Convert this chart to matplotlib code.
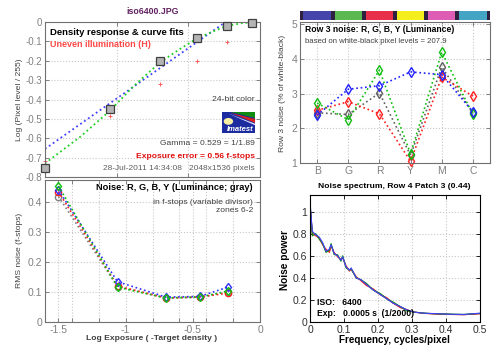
import numpy as np
import matplotlib
matplotlib.use("Agg")
import matplotlib.pyplot as plt
from matplotlib.patches import Rectangle, Polygon, Circle

plt.rcParams['font.family'] = ['Liberation Sans', 'DejaVu Sans']

# ---- density response (top left)
dens_x = [-1.5, -1.05, -0.70, -0.44, -0.23, -0.056]
dens_y = [-0.755, -0.45, -0.20, -0.085, -0.02, -0.005]
uneven_y = [-0.715, -0.485, -0.32, -0.20, -0.105, -0.01]
fit_lin_x = [-1.5, -0.24]
fit_lin_y = [-0.655, 0.0]
fit_curve_x = [-1.5, -1.25, -1.05, -0.88, -0.70, -0.56, -0.44, -0.30, -0.23, -0.12, 0.0]
fit_curve_y = [-0.73, -0.59, -0.46, -0.33, -0.21, -0.14, -0.085, -0.04, -0.02, -0.005, 0.0]

# ---- row 3 noise (top right)
patches = ['B', 'G', 'R', 'Y', 'M', 'C']
patch_colors = ['#4444aa', '#5cb850', '#e8304a', '#f4ee1c', '#de5cb4', '#44a4c4']
row3_red = [2.52, 2.77, 2.42, 1.05, 3.48, 2.93]
row3_green = [2.73, 2.25, 3.68, 1.27, 4.20, 2.40]
row3_blue = [2.38, 3.13, 3.23, 3.63, 3.55, 2.48]
row3_gray = [2.45, 2.40, 3.02, 1.22, 3.77, 2.45]

# ---- rms noise in f-stops (bottom left)
zone_x = [-1.5, -1.06, -0.70, -0.45, -0.24]
rms_green = [0.453, 0.116, 0.080, 0.083, 0.103]
rms_red = [0.434, 0.120, 0.080, 0.083, 0.096]
rms_gray = [0.418, 0.118, 0.080, 0.083, 0.100]
rms_blue = [0.440, 0.134, 0.083, 0.085, 0.116]

# ---- noise spectrum (bottom right)
freq = [0.0, 0.002, 0.007, 0.017, 0.027, 0.037, 0.047, 0.057, 0.062, 0.071,
        0.081, 0.091, 0.096, 0.106, 0.116, 0.121, 0.136, 0.151, 0.166, 0.186,
        0.206, 0.226, 0.245, 0.265, 0.285, 0.305, 0.335, 0.374, 0.414, 0.453, 0.5]
spec_blue = [1.13, 1.00, 0.82, 0.79, 0.77, 0.72, 0.64, 0.66, 0.70, 0.62,
             0.60, 0.56, 0.59, 0.50, 0.47, 0.49, 0.40, 0.38, 0.34, 0.29,
             0.25, 0.21, 0.17, 0.14, 0.11, 0.09, 0.08, 0.075, 0.07, 0.068, 0.08]
spec_red = [1.05, 0.98, 0.80, 0.78, 0.76, 0.70, 0.66, 0.63, 0.69, 0.63,
            0.59, 0.57, 0.58, 0.51, 0.46, 0.48, 0.41, 0.37, 0.33, 0.30,
            0.25, 0.22, 0.17, 0.13, 0.11, 0.09, 0.078, 0.072, 0.068, 0.066, 0.075]
spec_green = [1.08, 0.99, 0.78, 0.80, 0.75, 0.71, 0.63, 0.65, 0.71, 0.61,
              0.61, 0.55, 0.60, 0.49, 0.47, 0.48, 0.40, 0.38, 0.35, 0.29,
              0.26, 0.21, 0.18, 0.14, 0.10, 0.09, 0.08, 0.074, 0.071, 0.069, 0.078]
spec_gray = [1.10, 0.99, 0.80, 0.79, 0.76, 0.71, 0.64, 0.64, 0.70, 0.62,
             0.60, 0.56, 0.59, 0.50, 0.47, 0.48, 0.40, 0.38, 0.34, 0.29,
             0.25, 0.21, 0.17, 0.14, 0.11, 0.09, 0.079, 0.073, 0.069, 0.067, 0.076]

W, H = 500, 353
fig = plt.figure(figsize=(W / 100, H / 100), dpi=100)
fig.patch.set_facecolor('white')

def px_axes(x0, y0, x1, y1):
    return fig.add_axes([x0 / W, 1 - y1 / H, (x1 - x0) / W, (y1 - y0) / H])

tick_gray = '#808080'
spine_gray = '#707070'
grid_kw = dict(color='#c8c8c8', linestyle=':', linewidth=0.8)

def imatest_style(ax, fs=7):
    for s in ax.spines.values():
        s.set_color(spine_gray)
        s.set_linewidth(0.8)
    ax.tick_params(which='both', direction='in', top=True, right=True,
                   colors=spine_gray, labelcolor=tick_gray, labelsize=fs,
                   length=3, width=0.6, pad=2)
    ax.set_axisbelow(True)

# ===== top left =====
ax1 = px_axes(45, 22, 260, 177)
ax1.set_xlim(-1.5, 0)
ax1.set_ylim(-0.8, 0)
ax1.set_xticks([-1.5, -1.0, -0.5, 0])
ax1.set_xticklabels([])
ax1.set_yticks(np.arange(-0.8, 0.01, 0.1))
ax1.set_yticklabels(['-0.8', '-0.7', '-0.6', '-0.5', '-0.4', '-0.3', '-0.2', '-0.1', '0'])
ax1.grid(True, **grid_kw)
imatest_style(ax1)
ax1.plot(fit_lin_x, fit_lin_y, ':', color='#4040ff', lw=1.3)
ax1.plot(fit_curve_x, fit_curve_y, ':', color='#20d020', lw=1.3)
ax1.plot(dens_x, uneven_y, '+', color='#ff6060', ms=3, mew=0.7, clip_on=False)
ax1.plot(dens_x, dens_y, 's', mfc='#b4b4b4', mec='#404040', ms=5.5, mew=0.9,
         clip_on=False, zorder=5)
ax1.text(0.023, 0.935, 'Density response & curve fits', transform=ax1.transAxes,
         fontsize=6.8, fontweight='bold', va='center')
ax1.text(0.023, 0.858, 'Uneven illumination (H)', transform=ax1.transAxes,
         fontsize=6.5, fontweight='bold', color='#ff4848', va='center')
ax1.text(0.977, 0.503, '24-bit color', transform=ax1.transAxes, fontsize=6.1,
         color='#404040', ha='right', va='center')
ax1.text(0.977, 0.213, 'Gamma = 0.529 = 1/1.89', transform=ax1.transAxes,
         fontsize=6.1, color='#404040', ha='right', va='center')
ax1.text(0.977, 0.135, 'Exposure error = 0.56 f-stops', transform=ax1.transAxes,
         fontsize=6.1, fontweight='bold', color='#e01010', ha='right', va='center')
ax1.text(0.977, 0.058, '28-Jul-2011 14:34:08   2048x1536 pixels',
         transform=ax1.transAxes, fontsize=6.0, color='#606060', ha='right',
         va='center')
# imatest logo
lx0, lx1, ly0, ly1 = 0.823, 0.977, 0.284, 0.419
tr = ax1.transAxes
ax1.add_patch(Rectangle((lx0, ly0), lx1 - lx0, ly1 - ly0, transform=tr,
                        facecolor='#1c2ca0', edgecolor='none', zorder=6))
ax1.add_patch(Polygon([(lx0 + 0.04, ly1), (lx1, ly1), (lx1, ly1 - 0.04)],
                      closed=True, transform=tr, facecolor='#108a10',
                      edgecolor='none', zorder=7))
ax1.add_patch(Polygon([(lx0 + 0.04, ly1 - 0.005), (lx1, ly1 - 0.045),
                       (lx1, ly1 - 0.07)], closed=True, transform=tr,
                      facecolor='#d82020', edgecolor='none', zorder=7))
ax1.add_patch(Polygon([(lx0 + 0.03, ly1 - 0.01), (lx1, ly1 - 0.075),
                       (lx1, ly1 - 0.085)], closed=True, transform=tr,
                      facecolor='#e0e0ff', edgecolor='none', zorder=7))
ax1.add_patch(Circle((lx0 + 0.03, ly0 + 0.075), 0.022, transform=tr,
                     facecolor='#f8f0a0', edgecolor='none', zorder=8))
ax1.text((lx0 + lx1) / 2 + 0.01, ly0 + 0.025, 'Imatest', transform=tr,
         fontsize=5.5, fontweight='bold', style='italic', color='white',
         ha='center', va='center', zorder=9)

fig.text(153 / W, 1 - 12 / H, 'iso6400.JPG', fontsize=6.3, fontweight='bold',
         color='#602060', ha='center', va='center')
fig.text(20 / W, 1 - 100 / H, 'Log (Pixel level / 255)', fontsize=6.1,
         color='#404040', rotation=90, ha='center', va='center')

# ===== top right =====
xs = np.arange(len(patches))
axc = px_axes(300, 11, 490, 20)
axc.set_xlim(-0.55, 5.55)
axc.set_ylim(0, 1)
axc.set_facecolor('#302040')
axc.bar(xs, [1] * len(xs), width=0.88, color=patch_colors, bottom=0)
axc.set_xticks([])
axc.set_yticks([])
for s in axc.spines.values():
    s.set_visible(False)

ax2 = px_axes(300, 22, 490, 163)
ax2.set_xlim(-0.55, 5.55)
ax2.set_ylim(1, 5.07)
ax2.set_xticks(xs)
ax2.set_xticklabels(patches)
ax2.set_yticks([1, 2, 3, 4, 5])
ax2.grid(True, **grid_kw)
imatest_style(ax2, fs=7.5)
for vals, c, m in [(row3_gray, '#606060', 'd'), (row3_red, '#ff2020', 'd'),
                   (row3_green, '#10c010', 'd'), (row3_blue, '#2020ff', 'd')]:
    ax2.plot(xs, vals, ':', color=c, lw=1.2, marker=m, mfc='none', mec=c,
             ms=5, mew=1.0, clip_on=False)
ax2.text(0.026, 0.95, 'Row 3 noise: R, G, B, Y (Luminance)', transform=ax2.transAxes,
         fontsize=6.2, fontweight='bold', va='center')
ax2.text(0.026, 0.865, 'based on white-black pixel levels = 207.9',
         transform=ax2.transAxes, fontsize=5.6, color='#404040', va='center')
fig.text(283 / W, 1 - 93 / H, 'Row 3 noise (% of white-black)', fontsize=6.1,
         color='#404040', rotation=90, ha='center', va='center')

# ===== bottom left =====
ax3 = px_axes(45, 180, 260, 322)
ax3.set_xlim(-1.6, 0)
ax3.set_ylim(0, 0.473)
ax3.set_xticks([-1.5, -1.0, -0.5, 0])
ax3.set_xticklabels(['-1.5', '-1', '-0.5', '0'])
ax3.set_xticks([-1.4, -1.2, -0.8, -0.6, -0.4, -0.2], minor=True)
ax3.set_yticks([0, 0.1, 0.2, 0.3, 0.4])
ax3.set_yticklabels(['0', '0.1', '0.2', '0.3', '0.4'])
ax3.grid(True, which='both', **grid_kw)
imatest_style(ax3, fs=7.5)
for vals, c, m in [(rms_gray, '#808080', 'o'), (rms_red, '#ff2020', 'o'),
                   (rms_blue, '#3030ff', 'd'), (rms_green, '#10c010', 'd')]:
    ax3.plot(zone_x, vals, ':', color=c, lw=1.2, marker=m, mfc='none', mec=c,
             ms=4.5, mew=1.0, clip_on=False)
ax3.text(0.967, 0.944, 'Noise: R, G, B, Y (Luminance; gray)', transform=ax3.transAxes,
         fontsize=6.7, fontweight='bold', ha='right', va='center')
ax3.text(0.967, 0.845, 'in f-stops (variable divisor)', transform=ax3.transAxes,
         fontsize=6.1, color='#404040', ha='right', va='center')
ax3.text(0.967, 0.782, 'zones 6-2', transform=ax3.transAxes,
         fontsize=6.1, color='#404040', ha='right', va='center')
fig.text(152 / W, 1 - 339 / H, 'Log Exposure ( -Target density )', fontsize=6.1,
         fontweight='bold', color='#404040', ha='center', va='center')
fig.text(20 / W, 1 - 250 / H, 'RMS noise (f-stops)', fontsize=6.1,
         color='#404040', rotation=90, ha='center', va='center')

# ===== bottom right =====
ax4 = px_axes(310, 195, 480, 322)
ax4.set_xlim(0, 0.5)
ax4.set_ylim(0, 1.15)
ax4.set_xticks([0, 0.1, 0.2, 0.3, 0.4, 0.5])
ax4.set_xticklabels(['0', '0.1', '0.2', '0.3', '0.4', '0.5'])
ax4.set_yticks([0, 0.2, 0.4, 0.6, 0.8, 1.0])
ax4.set_yticklabels(['0', '0.2', '0.4', '0.6', '0.8', '1'])
ax4.grid(True, **grid_kw)
ax4.tick_params(direction='in', top=True, right=True, labelsize=7.5,
                labelcolor='#303030', length=3, width=0.6, pad=2)
for s in ax4.spines.values():
    s.set_linewidth(0.8)
for vals, c in [(spec_gray, '#303030'), (spec_red, '#ff2020'),
                (spec_green, '#109010'), (spec_blue, '#4040ff')]:
    ax4.plot(freq, vals, '-', color=c, lw=0.8)
ax4.text(0.04, 0.157, 'ISO:   6400', transform=ax4.transAxes, fontsize=6.2,
         fontweight='bold', va='center')
ax4.text(0.04, 0.063, 'Exp:   0.0005 s  (1/2000)', transform=ax4.transAxes,
         fontsize=6.2, fontweight='bold', va='center')
fig.text(394 / W, 1 - 187 / H, 'Noise spectrum, Row 4 Patch 3 (0.44)', fontsize=6.1,
         fontweight='bold', ha='center', va='center')
fig.text(394 / W, 1 - 340 / H, 'Frequency, cycles/pixel', fontsize=7.1,
         fontweight='bold', ha='center', va='center')
fig.text(285 / W, 1 - 260 / H, 'Noise power', fontsize=7.3, fontweight='bold',
         rotation=90, ha='center', va='center')

fig.savefig('out.png', dpi=100)
